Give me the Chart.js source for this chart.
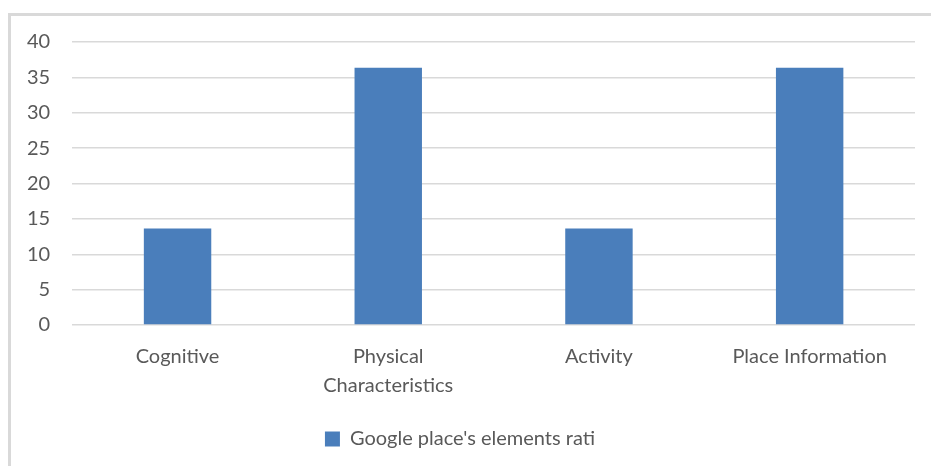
<!DOCTYPE html>
<html lang="en">
<head>
    <meta charset="UTF-8">
    <title>Google place's elements</title>
    <script src="https://cdn.jsdelivr.net/npm/chart.js"></script>
    <style>
        html, body { margin: 0; padding: 0; background: #fff; }
        #wrap { position: relative; width: 931px; height: 466px; overflow: hidden; }
        /* cornice grigia in alto e a sinistra, come nell'immagine */
        #frame {
            position: absolute; left: 8px; top: 13px; width: 940px; height: 470px;
            border-left: 3px solid #d9d9d9; border-top: 3px solid #d9d9d9;
        }
        #chart { position: absolute; left: 0; top: 0; }
    </style>
</head>
<body>
<div id="wrap">
    <div id="frame"></div>
    <canvas id="chart" width="931" height="466"></canvas>
</div>
<script>
// dati
const categories = ['Cognitive', ['Physical', 'Characteristics'], 'Activity', 'Place Information'];
const ratios = [13.64, 36.36, 13.64, 36.36];
const seriesName = "Google place's elements rati";
const yMin = 0, yMax = 40, yStep = 5;

const textColor = '#595959';
const fontFamily = 'Lato, "Liberation Sans", sans-serif';

new Chart(document.getElementById('chart'), {
    type: 'bar',
    data: {
        labels: categories,
        datasets: [{
            label: seriesName,
            data: ratios,
            backgroundColor: '#4a7ebb',
            barPercentage: 0.32,
            categoryPercentage: 1.0
        }]
    },
    options: {
        responsive: false,
        animation: false,
        layout: { padding: { left: 5, right: 16, top: 42, bottom: 7 } },
        plugins: {
            tooltip: { enabled: false },
            legend: {
                position: 'bottom',
                labels: {
                    color: textColor,
                    font: { family: fontFamily, size: 20 },
                    boxWidth: 15,
                    boxHeight: 15,
                    padding: 20
                }
            }
        },
        scales: {
            x: {
                grid: { display: false },
                border: { display: false },
                ticks: {
                    color: textColor,
                    font: { family: fontFamily, size: 20, lineHeight: 1.45 },
                    padding: 9,
                    maxRotation: 0
                }
            },
            y: {
                min: yMin,
                max: yMax,
                grid: { color: '#d9d9d9', lineWidth: 1.5, drawTicks: false },
                border: { display: false },
                ticks: {
                    stepSize: yStep,
                    color: textColor,
                    font: { family: fontFamily, size: 20 },
                    padding: 22
                }
            }
        }
    }
});
</script>
</body>
</html>
